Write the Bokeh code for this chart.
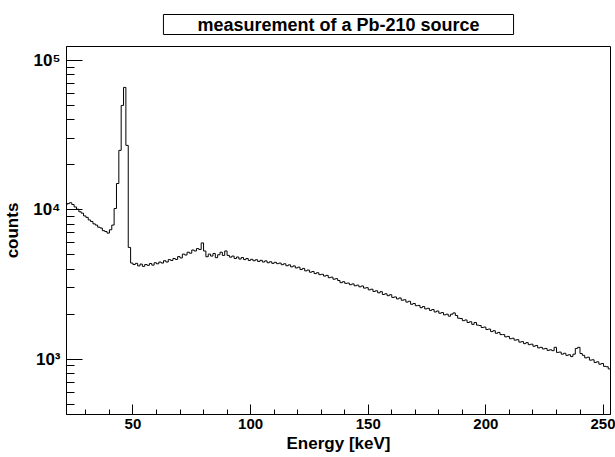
import numpy as np
from bokeh.plotting import figure
from bokeh.models import FixedTicker, Range1d, Title
from bokeh.embed import file_html
from bokeh.resources import INLINE

# ---- data ----
title_text = "measurement of a Pb-210 source"
x_label = "Energy [keV]"
y_label = "counts"

energy_first_edge = 21   # keV, lower edge of first bin
bin_width = 1            # keV

counts = [
    10800, 11000, 11150, 10850, 10450, 10100, 9700, 9500, 9100, 8900,    # 21-30
    8550, 8350, 8050, 7900, 7650, 7550, 7250, 7150, 6980, 7350,          # 31-40
    7900, 10200, 15000, 25000, 50000, 66000, 27000, 5600, 4400, 4300,    # 41-50
    4380, 4210, 4330, 4180, 4300, 4250, 4370, 4260, 4420, 4350,          # 51-60
    4470, 4400, 4560, 4470, 4640, 4580, 4720, 4650, 4860, 4760,          # 61-70
    5050, 4980, 5200, 5120, 5380, 5300, 5500, 5420, 6000, 5300,          # 71-80
    4850, 5050, 4900, 5100, 4780, 5000, 5200, 4950, 5300, 4950,          # 81-90
    4820, 4900, 4720, 4830, 4680, 4790, 4640, 4720, 4580, 4660,          # 91-100
    4560, 4630, 4510, 4590, 4470, 4550, 4420, 4490, 4380, 4450,          # 101-110
    4360, 4400, 4290, 4350, 4220, 4280, 4150, 4210, 4080, 4130,          # 111-120
    3980, 4050, 3900, 3950, 3820, 3860, 3740, 3790, 3680, 3700,          # 121-130
    3600, 3640, 3510, 3540, 3430, 3460, 3360, 3250, 3300, 3220,          # 131-140
    3230, 3150, 3190, 3100, 3130, 3050, 3090, 2990, 3010, 2910,          # 141-150
    2940, 2840, 2870, 2780, 2830, 2710, 2740, 2660, 2700, 2590,          # 151-160
    2610, 2530, 2570, 2480, 2500, 2410, 2440, 2330, 2360, 2280,          # 161-170
    2290, 2210, 2250, 2170, 2190, 2120, 2150, 2070, 2100, 2030,          # 171-180
    2050, 1980, 2000, 1940, 2000, 2040, 1960, 1880, 1870, 1810,          # 181-190
    1830, 1760, 1780, 1710, 1760, 1690, 1680, 1630, 1640, 1580,          # 191-200
    1590, 1530, 1550, 1490, 1510, 1460, 1460, 1410, 1420, 1370,          # 201-210
    1380, 1340, 1350, 1300, 1310, 1270, 1290, 1250, 1260, 1220,          # 211-220
    1235, 1190, 1200, 1170, 1180, 1145, 1155, 1140, 1200, 1110,          # 221-230
    1115, 1080, 1095, 1060, 1070, 1040, 1080, 1180, 1200, 1090,          # 231-240
    1060, 1020, 1030, 985, 990, 950, 960, 925, 935, 895,                 # 241-250
    890, 860, 855,                                                       # 251-253
]

x_major_ticks = [50, 100, 150, 200, 250]
x_minor_ticks = [30, 40, 60, 70, 80, 90, 110, 120, 130, 140, 160, 170,
                 180, 190, 210, 220, 230, 240]
y_major_ticks = [1000, 10000, 100000]
y_major_labels = ["10\u00b3", "10\u2074", "10\u2075"]
y_minor_ticks = [500, 600, 700, 800, 900,
                 2000, 3000, 4000, 5000, 6000, 7000, 8000, 9000,
                 20000, 30000, 40000, 50000, 60000, 70000, 80000, 90000]

# ---- histogram outline ----
edges = energy_first_edge + bin_width * np.arange(len(counts) + 1)
step_y = list(counts) + [counts[-1]]

FONT = "Liberation Sans"

p = figure(width=615, height=457, y_axis_type="log",
           x_range=Range1d(21.76, 252.96), y_range=Range1d(426, 124000),
           output_backend="svg", toolbar_location=None,
           min_border_left=64, min_border_right=5,
           min_border_top=45, min_border_bottom=43,
           background_fill_color="white", border_fill_color="white")

p.title = Title(text=title_text, align="center",
                text_font=FONT, text_font_size="18px", text_font_style="bold",
                text_color="black", border_line_color="black",
                background_fill_color="white", padding=(34, 0), standoff=24)

p.step(edges, step_y, mode="after", line_color="black", line_width=1)

p.outline_line_color = "black"
p.outline_line_width = 1
p.xgrid.grid_line_color = None
p.ygrid.grid_line_color = None

p.xaxis.ticker = FixedTicker(ticks=x_major_ticks, minor_ticks=x_minor_ticks)
p.yaxis.ticker = FixedTicker(ticks=y_major_ticks, minor_ticks=y_minor_ticks)
p.yaxis.major_label_overrides = {t: lab for t, lab in zip(y_major_ticks, y_major_labels)}

for ax in (p.xaxis, p.yaxis):
    ax.axis_line_color = "black"
    ax.major_tick_line_color = "black"
    ax.minor_tick_line_color = "black"
    ax.major_tick_out = 0
    ax.minor_tick_out = 0
    ax.major_label_text_font = FONT
    ax.major_label_text_font_style = "bold"
    ax.major_label_text_font_size = "15px"
    ax.major_label_text_color = "black"
    ax.axis_label_text_font = FONT
    ax.axis_label_text_font_style = "bold"
    ax.axis_label_text_font_size = "17px"
    ax.axis_label_text_color = "black"

p.yaxis.major_label_text_font_size = "17px"
p.xaxis.major_tick_in = 10
p.xaxis.minor_tick_in = 5
p.yaxis.major_tick_in = 16
p.yaxis.minor_tick_in = 8
p.xaxis.major_label_standoff = 4
p.yaxis.major_label_standoff = 6
p.xaxis.axis_label = x_label
p.yaxis.axis_label = y_label
p.xaxis.axis_label_standoff = 2
p.yaxis.axis_label_standoff = 8

open("out.html", "w").write(file_html(p, INLINE))
